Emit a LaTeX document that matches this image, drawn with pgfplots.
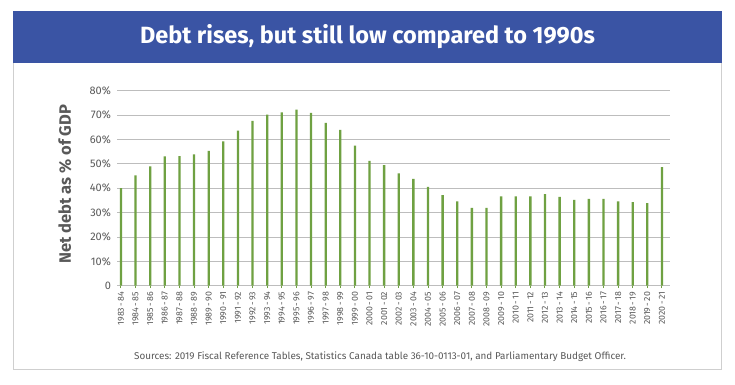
\documentclass[border=0pt]{standalone}
\usepackage{pgfplots}
\pgfplotsset{compat=1.18}
\usepackage{fontspec}
\setmainfont{Fira Sans}
\definecolor{band}{HTML}{3A54A4}
\definecolor{bargreen}{HTML}{6FA142}
\definecolor{gridgray}{HTML}{BDBDBD}
\definecolor{txtgray}{HTML}{595959}
\definecolor{framegray}{HTML}{CFCFCF}
\begin{document}
\begin{tikzpicture}[x=1pt,y=1pt]
\path[use as bounding box] (0,0) rectangle (735,384);
\fill[white] (0,0) rectangle (735,384);
\draw[framegray, line width=0.9pt] (13.3,15) rectangle (721.7,373);
\fill[band] (13.3,321.3) rectangle (721.7,373);
\node[white, font=\bfseries\fontsize{23.5}{27}\selectfont] at (367.5,347) {Debt rises, but still low compared to 1990s};
\begin{axis}[
  at={(117pt,98.3pt)}, anchor=south west,
  scale only axis, width=553pt, height=195pt,
  xmin=-0.27, xmax=37.55, ymin=0, ymax=80,
  axis line style={draw=none},
  ymajorgrids, grid style={gridgray, line width=0.9pt},
  ytick={0,10,20,30,40,50,60,70,80},
  yticklabels={0,10\%,20\%,30\%,40\%,50\%,60\%,70\%,80\%},
  ytick style={draw=none},
  xtick={0,...,37},
  xticklabels={1983\,-\,84,1984\,-\,85,1985\,-\,86,1986\,-\,87,1987\,-\,88,1988\,-\,89,1989\,-\,90,1990\,-\,91,1991\,-\,92,1992\,-\,93,1993\,-\,94,1994\,-\,95,1995\,-\,96,1996\,-\,97,1997\,-\,98,1998\,-\,99,1999\,-\,00,2000\,-\,01,2001\,-\,02,2002\,-\,03,2003\,-\,04,2004\,-\,05,2005\,-\,06,2006\,-\,07,2007\,-\,08,2008\,-\,09,2009\,-\,10,2010\,-\,11,2011\,-\,12,2012\,-\,13,2013\,-\,14,2014\,-\,15,2015\,-\,16,2016\,-\,17,2017\,-\,18,2018\,-\,19,2019\,-\,20,2020\,-\,21},
  x tick label style={rotate=90, anchor=east, font=\fontsize{8.8}{9}\selectfont, text=txtgray},
  y tick label style={font=\fontsize{11}{12}\selectfont, text=txtgray},
  xtick pos=bottom, tick align=outside,
  major tick length=2.5pt,
  xtick style={bargreen, line width=1pt},
  /pgf/number format/assume math mode=true,
  ylabel={Net debt as \% of GDP},
  ylabel style={at={(axis description cs:-0.094,0.52)}, anchor=center, font=\bfseries\fontsize{16.5}{18}\selectfont, text=txtgray},
  clip=false,
]
\addplot[ybar, bar width=2.3pt, fill=bargreen, draw=none] coordinates {
(0,40.0) (1,45.3) (2,49.0) (3,53.1) (4,53.2) (5,53.9) (6,55.3) (7,59.2) (8,63.6) (9,67.6)
(10,70.2) (11,71.1) (12,72.2) (13,70.9) (14,66.8) (15,63.9) (16,57.5) (17,51.2) (18,49.5) (19,46.1)
(20,43.8) (21,40.5) (22,37.2) (23,34.6) (24,31.9) (25,31.9) (26,36.7) (27,36.7) (28,36.7) (29,37.6)
(30,36.4) (31,35.2) (32,35.6) (33,35.6) (34,34.6) (35,34.3) (36,33.9) (37,48.6)
};
\end{axis}
\node[font=\fontsize{9.9}{11}\selectfont, text=txtgray] at (380,27) {Sources: 2019 Fiscal Reference Tables, Statistics Canada table 36-10-0113-01, and Parliamentary Budget Officer.};
\end{tikzpicture}
\end{document}
